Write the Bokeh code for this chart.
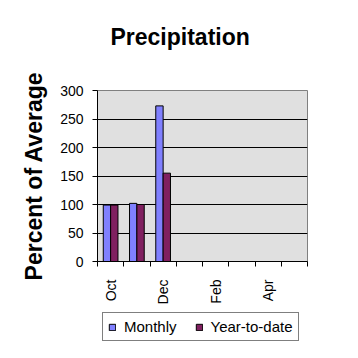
import math
from bokeh.plotting import figure
from bokeh.layouts import column
from bokeh.models import FixedTicker, Legend, LegendItem, Range1d, ColumnDataSource, Title
from bokeh.embed import file_html
from bokeh.resources import INLINE

# ---- data ----
months = ["Oct", "Nov", "Dec", "Jan", "Feb", "Mar", "Apr", "May"]
monthly = [99, 102, 273]
year_to_date = [99, 100, 155]
label_months = ["Oct", "Dec", "Feb", "Apr"]
y_ticks = [0, 50, 100, 150, 200, 250, 300]
series_names = ["Monthly", "Year-to-date"]
series_colors = ["#8080FF", "#802060"]

BAR_W = 0.28
FONT = "Liberation Sans"

idx = list(range(len(monthly)))
src_m = ColumnDataSource(dict(x=[i + 0.5 - BAR_W / 2 for i in idx], top=monthly))
src_y = ColumnDataSource(dict(x=[i + 0.5 + BAR_W / 2 for i in idx], top=year_to_date))
sources = [src_m, src_y]

p = figure(width=342, height=307, x_range=Range1d(0, len(months)), y_range=Range1d(0, 300),
           output_backend="svg", toolbar_location=None,
           min_border_left=97, min_border_right=35, min_border_top=90, min_border_bottom=46)

p.background_fill_color = "#E0E0E0"
p.border_fill_color = "white"
p.outline_line_color = "#808080"

for src, col in zip(sources, series_colors):
    p.vbar(x="x", top="top", bottom=0, width=BAR_W, source=src,
           fill_color=col, line_color="black", line_width=1)

# spacer between title and frame
p.add_layout(Title(text=" ", text_font_size="1px", standoff=24), "above")

# title
p.title.text = "Precipitation"
p.title.text_font = FONT
p.title.text_font_size = "23px"
p.title.text_font_style = "bold"
p.title.text_color = "black"
p.title.align = "left"
p.title.offset = 13
p.title.standoff = 28

# x axis
label_pos = [months.index(m) + 0.5 for m in label_months]
xa = p.xaxis[0]
xa.ticker = FixedTicker(ticks=label_pos, minor_ticks=list(range(len(months) + 1)))
xa.major_label_overrides = {pos: m for pos, m in zip(label_pos, label_months)}
xa.major_tick_out = 0
xa.major_tick_in = 0
xa.minor_tick_out = 5
xa.minor_tick_in = 0
xa.minor_tick_line_color = "black"
xa.axis_line_color = "black"
xa.major_label_orientation = math.pi / 2
xa.major_label_standoff = 13
xa.major_label_text_font = FONT
xa.major_label_text_font_size = "14px"
xa.major_label_text_color = "black"

# y axis
ya = p.yaxis[0]
ya.ticker = FixedTicker(ticks=y_ticks)
ya.minor_tick_line_color = None
ya.major_tick_out = 5
ya.major_tick_in = 0
ya.major_tick_line_color = "black"
ya.axis_line_color = "black"
ya.major_label_standoff = 9
ya.major_label_text_font = FONT
ya.major_label_text_font_size = "14px"
ya.major_label_text_color = "black"
ya.axis_label = "Percent of Average"
ya.axis_label_text_font = FONT
ya.axis_label_text_font_size = "23px"
ya.axis_label_text_font_style = "bold"
ya.axis_label_text_color = "black"
ya.axis_label_standoff = 10

# grid
p.xgrid.visible = False
p.ygrid.ticker = FixedTicker(ticks=y_ticks[1:-1])
p.ygrid.grid_line_color = "black"
p.ygrid.grid_line_width = 1

# legend strip below the chart (its frame is aligned with the chart's frame);
# the same series are drawn there, outside its visible y range, only to feed the legend
pl = figure(width=342, height=35, x_range=Range1d(0, len(months)), y_range=Range1d(1000, 1001),
            output_backend="svg", toolbar_location=None,
            x_axis_type=None, y_axis_type=None, min_border=0)
pl.grid.visible = False
pl.outline_line_color = None
pl.background_fill_color = "white"
pl.border_fill_color = "white"
items = []
for name, src, col in zip(series_names, sources, series_colors):
    rr = pl.vbar(x="x", top="top", bottom=0, width=BAR_W, source=src,
                 fill_color=col, line_color="black", line_width=1)
    items.append(LegendItem(label=name, renderers=[rr]))

legend = Legend(items=items, orientation="horizontal", location=(5, 1),
                border_line_color="black", border_line_width=1,
                background_fill_color="white", background_fill_alpha=1,
                label_text_font=FONT, label_text_font_size="15px", label_text_color="black",
                glyph_width=8, glyph_height=8, label_standoff=8, label_height=17,
                spacing=18, padding=5, margin=0)
pl.add_layout(legend)

layout = column(p, pl, spacing=0)
open("out.html", "w").write(file_html(layout, INLINE))
